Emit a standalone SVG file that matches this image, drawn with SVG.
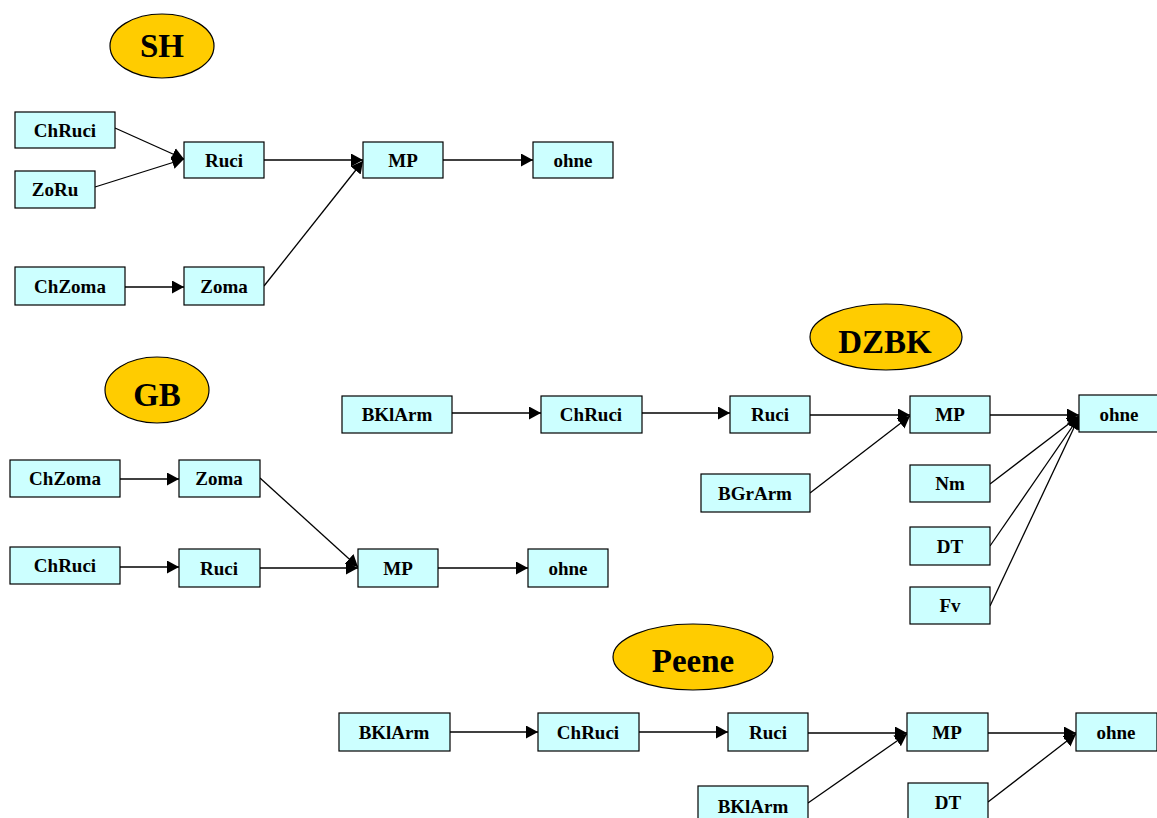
<svg xmlns="http://www.w3.org/2000/svg" width="1157" height="818" viewBox="0 0 1157 818">
<style>
.n rect{fill:#CCFFFF;stroke:#000;stroke-width:1.2}
.n text{font-family:"Liberation Serif","Times New Roman",serif;font-weight:bold;font-size:19px;text-anchor:middle;fill:#000}
.t ellipse{fill:#FFCC00;stroke:#000;stroke-width:1.2}
.t text{font-family:"Liberation Serif","Times New Roman",serif;font-weight:bold;font-size:33px;text-anchor:middle;fill:#000}
.e line{stroke:#000;stroke-width:1.3;marker-end:url(#ah)}
</style>
<defs>
<marker id="ah" markerUnits="userSpaceOnUse" markerWidth="14" markerHeight="14" refX="12" refY="6.5" orient="auto">
<path d="M0,0 L12,6.5 L0,13 z" fill="#000"/>
</marker>
</defs>
<rect width="1157" height="818" fill="#fff"/>

<!-- titles -->
<g id="t_sh" class="t"><ellipse cx="162" cy="46" rx="52" ry="32"/><text x="162" y="57">SH</text></g>
<g id="t_gb" class="t"><ellipse cx="157" cy="390" rx="52" ry="33"/><text x="157" y="406">GB</text></g>
<g id="t_dzbk" class="t"><ellipse cx="886" cy="337" rx="76" ry="33"/><text x="885" y="353">DZBK</text></g>
<g id="t_peene" class="t"><ellipse cx="693" cy="657" rx="80" ry="33"/><text x="693" y="672">Peene</text></g>

<!-- connectors -->
<g id="edges" class="e">
<!-- SH -->
<line x1="115" y1="128" x2="184" y2="159"/>
<line x1="95" y1="187" x2="184" y2="159"/>
<line x1="125" y1="287" x2="184" y2="287"/>
<line x1="264" y1="160" x2="363" y2="160"/>
<line x1="264" y1="286" x2="363" y2="161"/>
<line x1="443" y1="160" x2="533" y2="160"/>
<!-- GB -->
<line x1="120" y1="479" x2="179" y2="479"/>
<line x1="120" y1="567" x2="179" y2="567"/>
<line x1="260" y1="478" x2="358" y2="567"/>
<line x1="260" y1="568" x2="358" y2="568"/>
<line x1="438" y1="568" x2="528" y2="568"/>
<!-- DZBK -->
<line x1="452" y1="413" x2="541" y2="413"/>
<line x1="642" y1="413" x2="730" y2="413"/>
<line x1="810" y1="415" x2="910" y2="415"/>
<line x1="810" y1="493" x2="910" y2="416"/>
<line x1="990" y1="415" x2="1079" y2="415"/>
<line x1="990" y1="484" x2="1079" y2="416"/>
<line x1="990" y1="546" x2="1079" y2="417"/>
<line x1="990" y1="606" x2="1079" y2="417"/>
<!-- Peene -->
<line x1="450" y1="732" x2="538" y2="732"/>
<line x1="639" y1="732" x2="728" y2="732"/>
<line x1="808" y1="733" x2="907" y2="733"/>
<line x1="808" y1="803" x2="907" y2="734"/>
<line x1="988" y1="733" x2="1076" y2="733"/>
<line x1="988" y1="802" x2="1076" y2="734"/>
</g>

<!-- SH nodes -->
<g id="sh_chruci" class="n"><rect x="15" y="112" width="100" height="36"/><text x="65" y="137">ChRuci</text></g>
<g id="sh_zoru" class="n"><rect x="15" y="171" width="80" height="37"/><text x="55" y="196">ZoRu</text></g>
<g id="sh_ruci" class="n"><rect x="184" y="142" width="80" height="36"/><text x="224" y="167">Ruci</text></g>
<g id="sh_chzoma" class="n"><rect x="15" y="267" width="110" height="38"/><text x="70" y="293">ChZoma</text></g>
<g id="sh_zoma" class="n"><rect x="184" y="267" width="80" height="38"/><text x="224" y="293">Zoma</text></g>
<g id="sh_mp" class="n"><rect x="363" y="142" width="80" height="36"/><text x="403" y="167">MP</text></g>
<g id="sh_ohne" class="n"><rect x="533" y="142" width="80" height="36"/><text x="573" y="167">ohne</text></g>

<!-- GB nodes -->
<g id="gb_chzoma" class="n"><rect x="10" y="460" width="110" height="37"/><text x="65" y="485">ChZoma</text></g>
<g id="gb_zoma" class="n"><rect x="179" y="460" width="81" height="37"/><text x="219" y="485">Zoma</text></g>
<g id="gb_chruci" class="n"><rect x="10" y="547" width="110" height="37"/><text x="65" y="572">ChRuci</text></g>
<g id="gb_ruci" class="n"><rect x="179" y="549" width="81" height="38"/><text x="219" y="575">Ruci</text></g>
<g id="gb_mp" class="n"><rect x="358" y="549" width="80" height="38"/><text x="398" y="575">MP</text></g>
<g id="gb_ohne" class="n"><rect x="528" y="549" width="80" height="38"/><text x="568" y="575">ohne</text></g>

<!-- DZBK nodes -->
<g id="dz_bklarm" class="n"><rect x="342" y="396" width="110" height="37"/><text x="397" y="421">BKlArm</text></g>
<g id="dz_chruci" class="n"><rect x="541" y="396" width="101" height="37"/><text x="591" y="421">ChRuci</text></g>
<g id="dz_ruci" class="n"><rect x="730" y="396" width="80" height="37"/><text x="770" y="421">Ruci</text></g>
<g id="dz_mp" class="n"><rect x="910" y="396" width="80" height="37"/><text x="950" y="421">MP</text></g>
<g id="dz_ohne" class="n"><rect x="1079" y="395" width="80" height="37"/><text x="1119" y="421">ohne</text></g>
<g id="dz_bgrarm" class="n"><rect x="701" y="474" width="109" height="38"/><text x="755" y="500">BGrArm</text></g>
<g id="dz_nm" class="n"><rect x="910" y="465" width="80" height="37"/><text x="950" y="490">Nm</text></g>
<g id="dz_dt" class="n"><rect x="910" y="527" width="80" height="38"/><text x="950" y="553">DT</text></g>
<g id="dz_fv" class="n"><rect x="910" y="587" width="80" height="37"/><text x="950" y="612">Fv</text></g>

<!-- Peene nodes -->
<g id="pe_bklarm" class="n"><rect x="339" y="713" width="111" height="38"/><text x="394" y="739">BKlArm</text></g>
<g id="pe_chruci" class="n"><rect x="538" y="713" width="101" height="38"/><text x="588" y="739">ChRuci</text></g>
<g id="pe_ruci" class="n"><rect x="728" y="713" width="80" height="38"/><text x="768" y="739">Ruci</text></g>
<g id="pe_mp" class="n"><rect x="907" y="713" width="81" height="38"/><text x="947" y="739">MP</text></g>
<g id="pe_ohne" class="n"><rect x="1076" y="713" width="81" height="38"/><text x="1116" y="739">ohne</text></g>
<g id="pe_bklarm2" class="n"><rect x="698" y="786" width="110" height="38"/><text x="753" y="813">BKlArm</text></g>
<g id="pe_dt" class="n"><rect x="908" y="783" width="80" height="38"/><text x="948" y="809">DT</text></g>
</svg>
